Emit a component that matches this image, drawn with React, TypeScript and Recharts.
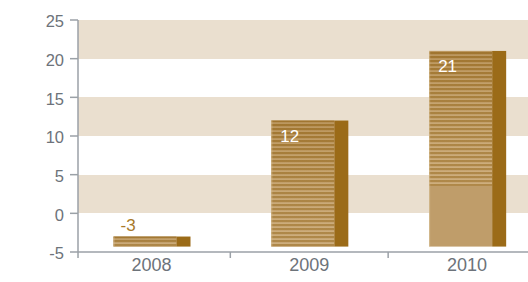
import React from 'react';
import { BarChart, Bar, XAxis, YAxis, CartesianGrid } from 'recharts';

const years = ['2008', '2009', '2010'];
const values = [-3, 12, 21];
const barBase = -4.3;
const yTicks = [-5, 0, 5, 10, 15, 20, 25];

const data = years.map((year, i) => ({ year, value: values[i], range: [barBase, values[i]] }));

const AXIS = '#9ba1a7';
const TEXT = '#6d737a';
const FONT = '"Liberation Sans", Arial, Helvetica, sans-serif';
const HALF_BAND = 78.9;
const SIDE = 14;

function BarShape(props: any) {
  const { x, y, width, height, payload } = props;
  if (x == null || y == null) return null;
  const front = width - SIDE;
  const bx = x + 1;
  const stripeH = Math.min(height, 135);
  const v = payload.value;
  return (
    <g>
      <rect x={bx} y={y} width={front} height={height} fill="#bf9d6a" />
      <rect x={bx} y={y} width={front} height={stripeH} fill="url(#woodStripes)" />
      <rect x={bx} y={y} width={front} height={stripeH} fill="url(#woodShade)" />
      <rect x={bx} y={y} width={1} height={height} fill="#d8bf95" opacity={0.6} />
      <rect x={bx + front} y={y} width={SIDE} height={height} fill="#9b6b18" />
      {v < 0 ? (
        <text x={bx + 7} y={y - 6} fill="#a8792a" fontSize={17} fontFamily={FONT}>{v}</text>
      ) : (
        <text x={bx + 9} y={y + 21} fill="#ffffff" fontSize={17} fontFamily={FONT}>{v}</text>
      )}
    </g>
  );
}

function YTick(props: any) {
  const { x, y, payload } = props;
  return (
    <text x={x} y={y} dy={7.4} textAnchor="end" fill={TEXT} fontSize={16.5} fontFamily={FONT}>
      {payload.value}
    </text>
  );
}

function XTick(props: any) {
  const { x, y, payload, index } = props;
  return (
    <g>
      <text x={x} y={y} dy="0.71em" textAnchor="middle" fill={TEXT} fontSize={18} fontFamily={FONT}>
        {payload.value}
      </text>
      <line x1={x + HALF_BAND} x2={x + HALF_BAND} y1={y - 6} y2={y} stroke={AXIS} strokeWidth={1.5} />
      {index === 0 && (
        <line x1={x - HALF_BAND + 5.5} x2={x - HALF_BAND + 5.5} y1={y - 6} y2={y} stroke={AXIS} strokeWidth={1.5} />
      )}
    </g>
  );
}

export default function App() {
  return (
    <div style={{ position: 'absolute', left: 0, top: 0, width: 528, height: 282, overflow: 'hidden' }}>
      <div style={{ position: 'absolute', left: 8, top: 8 }}>
        <BarChart width={545} height={274} data={data} margin={{ top: 12, right: 7, bottom: 0, left: 0 }}>
          <defs>
            <pattern id="woodStripes" width="8" height="4" patternUnits="userSpaceOnUse">
              <rect width="8" height="4" fill="#c8a56f" />
              <rect width="8" height="2.2" fill="#a67b35" />
            </pattern>
            <linearGradient id="woodShade" x1="0" y1="0" x2="0" y2="1">
              <stop offset="0" stopColor="#8a5f1a" stopOpacity={0.2} />
              <stop offset="1" stopColor="#ffffff" stopOpacity={0.1} />
            </linearGradient>
          </defs>
          <CartesianGrid vertical={false} stroke="none" horizontalFill={['#eadfcf', '#ffffff']} />
          <XAxis
            dataKey="year"
            height={30}
            padding={{ left: -5.5, right: 0 }}
            tickSize={6}
            tickMargin={0}
            tickLine={false}
            axisLine={{ stroke: AXIS, strokeWidth: 1.5 }}
            tick={<XTick />}
            interval={0}
          />
          <YAxis
            type="number"
            width={70}
            domain={[-5, 25]}
            ticks={yTicks}
            tickSize={8}
            tickMargin={6}
            tickLine={{ stroke: AXIS, strokeWidth: 1.5 }}
            axisLine={{ stroke: AXIS, strokeWidth: 1.5 }}
            tick={<YTick />}
            interval={0}
          />
          <Bar dataKey="range" barSize={77} isAnimationActive={false} shape={<BarShape />} />
        </BarChart>
      </div>
    </div>
  );
}
